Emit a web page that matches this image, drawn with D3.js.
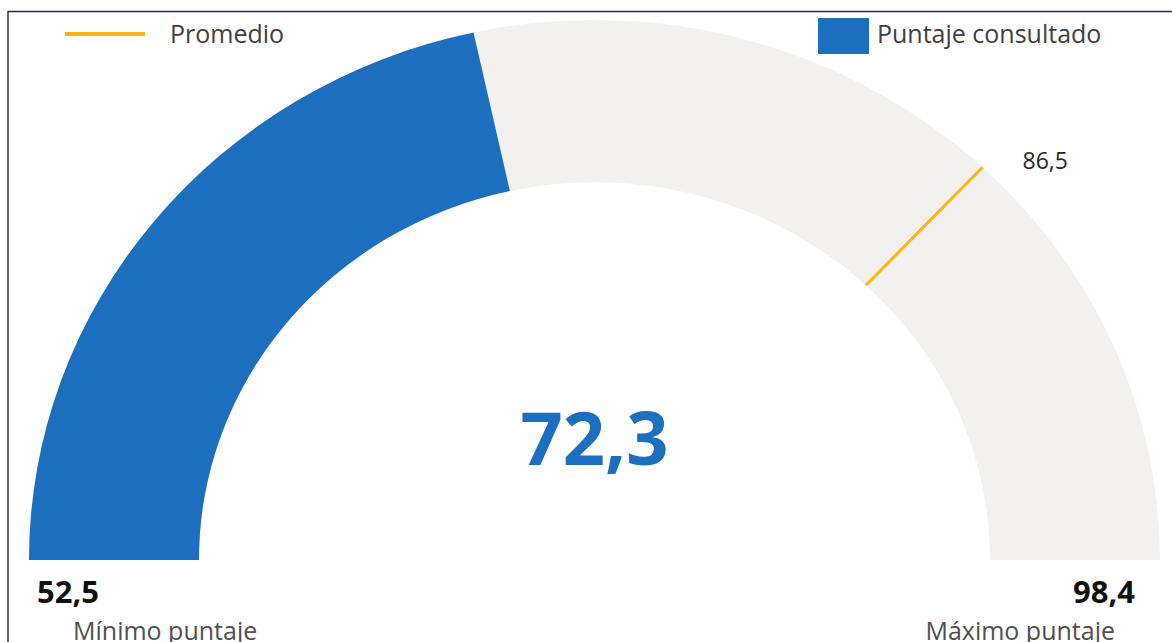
<!DOCTYPE html>
<html>
<head>
<meta charset="utf-8">
<script src="https://cdn.jsdelivr.net/npm/d3@7"></script>
<style>
  html, body { margin: 0; padding: 0; background: #ffffff; }
  svg { display: block; }
  text { font-family: "Segoe UI", "Open Sans", "Noto Sans", sans-serif; }
</style>
</head>
<body>
<svg id="chart" width="1172" height="642"></svg>
<script>
// Gauge values
const minScore = [52.5];
const maxScore = [98.4];
const consultedScore = [72.3];
const averageScore = [86.5];

// Labels
const legendLabels = ["Promedio", "Puntaje consultado"];
const endLabels = ["Mínimo puntaje", "Máximo puntaje"];

const fmt = v => d3.format(".1f")(v).replace(".", ",");

const svg = d3.select("#chart");
const W = 1172, H = 642;

const blue = "#1c6fbf";
const track = "#f2f1f0";
const gold = "#fdb415";

// Frame lines on the top and left edges
svg.append("line").attr("x1", 8).attr("y1", 11.5).attr("x2", W).attr("y2", 11.5)
  .attr("stroke", "#1f2a72").attr("stroke-width", 1.5);
svg.append("line").attr("x1", 8).attr("y1", 11).attr("x2", 8).attr("y2", H)
  .attr("stroke", "#1f2a72").attr("stroke-width", 1.5);

// Gauge geometry
const cx = 594.5, cy = 560;
const rOuter = 565.5, rInner = 395.5;
const yScale = 0.955;

const angle = d3.scaleLinear()
  .domain([minScore[0], maxScore[0]])
  .range([-Math.PI / 2, Math.PI / 2]);

const arc = d3.arc().innerRadius(rInner).outerRadius(rOuter);

const g = svg.append("g")
  .attr("transform", `translate(${cx},${cy}) scale(1,${yScale})`);

// Background track
g.append("path")
  .attr("d", arc({ startAngle: angle(minScore[0]), endAngle: angle(maxScore[0]) }))
  .attr("fill", track);

// Consulted score
g.append("path")
  .attr("d", arc({ startAngle: angle(minScore[0]), endAngle: angle(consultedScore[0]) }))
  .attr("fill", blue);

// Average marker
const a = angle(averageScore[0]);
g.append("line")
  .attr("x1", Math.sin(a) * rInner).attr("y1", -Math.cos(a) * rInner)
  .attr("x2", Math.sin(a) * rOuter).attr("y2", -Math.cos(a) * rOuter)
  .attr("stroke", gold).attr("stroke-width", 3)
  .attr("vector-effect", "non-scaling-stroke");

// Average label
const ax = cx + Math.sin(a) * rOuter, ay = cy - Math.cos(a) * rOuter * yScale;
svg.append("text")
  .attr("x", ax + 40).attr("y", ay + 2)
  .attr("font-size", 23).attr("fill", "#252525")
  .text(fmt(averageScore[0]));

// Central value
svg.append("text")
  .attr("x", cx).attr("y", 465)
  .attr("text-anchor", "middle")
  .attr("font-size", 74).attr("font-weight", "bold")
  .attr("fill", blue)
  .text(fmt(consultedScore[0]));

// Min / max values
svg.append("text")
  .attr("x", 37).attr("y", 603)
  .attr("font-size", 31).attr("font-weight", "bold").attr("fill", "#111")
  .text(fmt(minScore[0]));
svg.append("text")
  .attr("x", 1135).attr("y", 603).attr("text-anchor", "end")
  .attr("font-size", 31).attr("font-weight", "bold").attr("fill", "#111")
  .text(fmt(maxScore[0]));

svg.append("text")
  .attr("x", 73).attr("y", 640)
  .attr("font-size", 25).attr("fill", "#505050")
  .text(endLabels[0]);
svg.append("text")
  .attr("x", 1115).attr("y", 640).attr("text-anchor", "end")
  .attr("font-size", 25).attr("fill", "#505050")
  .text(endLabels[1]);

// Legend
svg.append("line")
  .attr("x1", 65).attr("y1", 34).attr("x2", 145).attr("y2", 34)
  .attr("stroke", gold).attr("stroke-width", 4);
svg.append("text")
  .attr("x", 170).attr("y", 43)
  .attr("font-size", 25).attr("fill", "#404040")
  .text(legendLabels[0]);

svg.append("rect")
  .attr("x", 818).attr("y", 18).attr("width", 51).attr("height", 36)
  .attr("fill", blue);
svg.append("text")
  .attr("x", 877).attr("y", 43)
  .attr("font-size", 25).attr("fill", "#404040")
  .text(legendLabels[1]);
</script>
</body>
</html>
